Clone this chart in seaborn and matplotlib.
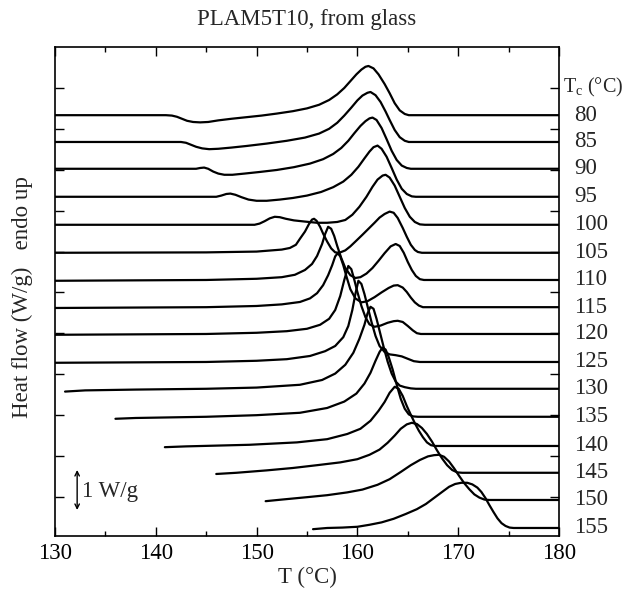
import numpy as np
import pandas as pd
import seaborn as sns
import matplotlib.pyplot as plt
from matplotlib.ticker import MultipleLocator

# crystallization temperatures (°C), one trace each, top to bottom
tc = [80, 85, 90, 95, 100, 105, 110, 115, 120, 125, 130, 135, 140, 145, 150, 155]
# vertical shift of each trace in the stack (W/g)
shift = [10.52, 9.85, 9.18, 8.48, 7.78, 7.08, 6.4, 5.72, 5.05, 4.35,
         3.68, 2.98, 2.25, 1.58, 0.9, 0.2]

# heat flow relative to each trace baseline (W/g)
T_80 = [130.0, 141.0, 141.6, 142.1, 142.6, 143.1, 143.7, 144.4, 145.2, 146.2, 147.5,
        149.0, 150.5, 152.0, 153.6, 155.0, 156.2, 157.2, 158.0, 158.7, 159.3, 159.9,
        160.4, 160.8, 161.1, 161.6, 162.1, 162.7, 163.2, 163.7, 164.2, 164.7, 165.1, 180.0]
hf_80 = [0, 0, -0.01, -0.04, -0.09, -0.14, -0.17, -0.18, -0.17, -0.13, -0.09,
         -0.05, -0.01, 0.04, 0.1, 0.17, 0.26, 0.38, 0.52, 0.68, 0.85, 1.02,
         1.14, 1.21, 1.23, 1.17, 1.02, 0.78, 0.55, 0.3, 0.12, 0.03, 0, 0]

T_85 = [130.0, 142.5, 143.0, 143.5, 144.0, 144.6, 145.3, 146.2, 147.5, 149.0, 151.0,
        153.0, 154.8, 156.2, 157.2, 158.0, 158.7, 159.4, 160.0, 160.5, 161.0, 161.3,
        161.8, 162.3, 162.8, 163.2, 163.7, 164.2, 164.7, 165.1, 180.0]
hf_85 = [0, 0, -0.02, -0.07, -0.12, -0.16, -0.18, -0.17, -0.14, -0.1, -0.04,
         0.03, 0.11, 0.21, 0.33, 0.48, 0.66, 0.86, 1.04, 1.16, 1.23, 1.25,
         1.17, 1.0, 0.76, 0.55, 0.3, 0.12, 0.03, 0, 0]

T_90 = [130.0, 144.0, 144.4, 144.8, 145.2, 145.7, 146.2, 146.8, 147.6, 148.8, 150.3,
        152.0, 153.7, 155.3, 156.6, 157.6, 158.4, 159.1, 159.7, 160.3, 160.8, 161.2,
        161.5, 161.9, 162.4, 162.9, 163.4, 163.9, 164.4, 164.9, 165.3, 180.0]
hf_90 = [0, 0, 0.02, 0.03, 0.0, -0.07, -0.12, -0.15, -0.15, -0.12, -0.08,
         -0.03, 0.04, 0.13, 0.24, 0.37, 0.52, 0.7, 0.89, 1.07, 1.19, 1.26,
         1.28, 1.22, 1.02, 0.74, 0.45, 0.22, 0.08, 0.02, 0, 0]

T_95 = [130.0, 146.0, 146.5, 147.0, 147.4, 147.9, 148.5, 149.2, 150.0, 151.0, 152.3,
        153.6, 155.0, 156.4, 157.6, 158.6, 159.4, 160.1, 160.7, 161.2, 161.6, 162.0,
        162.4, 162.9, 163.4, 163.9, 164.4, 164.9, 165.4, 165.8, 180.0]
hf_95 = [0, 0, 0.03, 0.07, 0.08, 0.05, -0.01, -0.07, -0.1, -0.1, -0.07,
         -0.03, 0.03, 0.12, 0.24, 0.38, 0.55, 0.75, 0.96, 1.13, 1.24, 1.28,
         1.2, 1.0, 0.72, 0.43, 0.2, 0.07, 0.01, 0, 0]

T_100 = [130.0, 149.8, 150.3, 150.8, 151.3, 151.8, 152.3, 152.9, 153.7, 154.8, 156.0,
         157.0, 158.0, 158.8, 159.5, 160.2, 160.9, 161.5, 162.0, 162.5, 162.8, 163.2,
         163.7, 164.2, 164.7, 165.2, 165.7, 166.2, 166.7, 180.0]
hf_100 = [0, 0, 0.03, 0.09, 0.16, 0.2, 0.19, 0.15, 0.11, 0.08, 0.05,
          0.05, 0.07, 0.12, 0.25, 0.45, 0.7, 0.95, 1.13, 1.23, 1.25, 1.18,
          0.98, 0.7, 0.42, 0.2, 0.07, 0.01, 0, 0]

T_105 = [130.0, 145.0, 150.0, 152.5, 153.3, 153.9, 154.3, 154.8, 155.2, 155.5, 155.7,
         155.95, 156.3, 156.6, 157.0, 157.4, 157.8, 158.2, 158.8, 159.3, 159.8, 160.5,
         161.1, 161.7, 162.2, 162.7, 163.2, 163.6, 164.0, 164.5, 164.9, 165.3, 165.7,
         166.0, 166.4, 180.0]
hf_105 = [0, 0.01, 0.03, 0.08, 0.12, 0.2, 0.35, 0.53, 0.72, 0.83, 0.85,
          0.8, 0.65, 0.48, 0.28, 0.11, 0.01, 0, 0.06, 0.16, 0.28, 0.45,
          0.6, 0.75, 0.88, 0.97, 1.03, 1.0, 0.87, 0.62, 0.4, 0.2, 0.07,
          0.02, 0, 0]

T_110 = [130.0, 145.0, 150.0, 152.5, 153.8, 154.8, 155.5, 156.0, 156.5, 156.8, 157.1,
         157.4, 157.7, 158.0, 158.4, 158.8, 159.3, 159.8, 160.3, 160.9, 161.5, 162.1,
         162.7, 163.3, 163.8, 164.2, 164.6, 165.0, 165.4, 165.8, 166.2, 166.6, 180.0]
hf_110 = [-0.02, 0, 0.03, 0.07, 0.13, 0.25, 0.4, 0.6, 0.9, 1.15, 1.33,
          1.28, 1.1, 0.85, 0.55, 0.3, 0.12, 0.05, 0.07, 0.16, 0.3, 0.48,
          0.67, 0.84, 0.9, 0.85, 0.68, 0.45, 0.25, 0.1, 0.02, 0, 0]

T_115 = [130.0, 145.0, 150.0, 152.5, 154.3, 155.3, 156.0, 156.6, 157.1, 157.5, 157.8,
         158.05, 158.3, 158.6, 158.9, 159.3, 159.8, 160.4, 161.0, 161.7, 162.4, 163.1,
         163.6, 164.0, 164.5, 164.9, 165.3, 165.7, 166.1, 166.5, 180.0]
hf_115 = [-0.02, 0, 0.03, 0.07, 0.13, 0.22, 0.35, 0.55, 0.8, 1.05, 1.27,
          1.35, 1.27, 1.05, 0.78, 0.45, 0.22, 0.12, 0.15, 0.25, 0.37, 0.48,
          0.54, 0.55, 0.49, 0.38, 0.24, 0.12, 0.04, 0, 0]

T_120 = [130.0, 145.0, 150.0, 153.0, 155.0, 156.3, 157.2, 157.8, 158.3, 158.7, 159.1,
         159.4, 159.7, 160.0, 160.4, 160.8, 161.2, 161.7, 162.3, 163.0, 163.6, 164.0,
         164.5, 165.0, 165.5, 165.9, 166.3, 180.0]
hf_120 = [-0.02, 0, 0.03, 0.07, 0.13, 0.23, 0.38, 0.6, 0.95, 1.35, 1.7,
          1.62, 1.35, 1.05, 0.7, 0.42, 0.24, 0.18, 0.21, 0.28, 0.32, 0.33,
          0.3, 0.2, 0.09, 0.02, 0, 0]

T_125 = [130.0, 145.0, 150.0, 153.0, 155.3, 156.8, 157.8, 158.6, 159.1, 159.5, 159.8,
         160.1, 160.4, 160.7, 161.0, 161.4, 161.8, 162.2, 162.7, 163.2, 163.8, 164.4,
         165.0, 165.6, 166.2, 180.0]
hf_125 = [-0.02, 0, 0.03, 0.07, 0.15, 0.27, 0.4, 0.62, 0.9, 1.3, 1.7,
          2.03, 1.95, 1.7, 1.4, 1.0, 0.65, 0.4, 0.25, 0.19, 0.17, 0.14,
          0.08, 0.02, 0, 0]

T_130 = [131.0, 133.0, 138.0, 145.0, 150.0, 154.3, 156.5, 157.8, 158.8, 159.6, 160.2,
         160.7, 161.0, 161.3, 161.6, 161.9, 162.2, 162.6, 163.0, 163.4, 163.8, 164.2,
         164.7, 165.3, 165.8, 180.0]
hf_130 = [-0.07, -0.04, -0.02, 0, 0.03, 0.1, 0.22, 0.38, 0.6, 0.9, 1.25,
          1.6, 1.88, 2.05, 2.0, 1.75, 1.45, 1.05, 0.68, 0.38, 0.18, 0.08,
          0.04, 0.01, 0, 0]

T_135 = [136.0, 138.0, 145.0, 150.0, 154.3, 157.0, 158.7, 159.9, 160.7, 161.3, 161.8,
         162.2, 162.5, 162.8, 163.1, 163.5, 163.9, 164.3, 164.7, 165.1, 165.5, 166.0,
         180.0]
hf_135 = [-0.05, -0.03, 0, 0.04, 0.1, 0.22, 0.38, 0.58, 0.83, 1.1, 1.4,
          1.62, 1.73, 1.68, 1.5, 1.18, 0.8, 0.45, 0.2, 0.06, 0.01, 0,
          0]

T_140 = [140.9, 143.0, 149.3, 154.0, 157.0, 159.0, 160.3, 161.3, 162.1, 162.7, 163.2,
         163.7, 164.1, 164.5, 164.9, 165.3, 165.7, 166.1, 166.5, 166.9, 167.3, 167.7,
         180.0]
hf_140 = [-0.03, -0.01, 0.03, 0.09, 0.17, 0.3, 0.43, 0.63, 0.88, 1.1, 1.33,
          1.48, 1.43, 1.25, 1.0, 0.78, 0.57, 0.38, 0.22, 0.09, 0.02, 0,
          0]

T_145 = [146.0, 148.0, 151.0, 153.6, 156.0, 158.3, 160.0, 161.2, 162.2, 163.0, 163.7,
         164.3, 164.9, 165.4, 165.9, 166.4, 166.9, 167.4, 167.9, 168.4, 168.9, 169.4,
         169.9, 170.4, 180.0]
hf_145 = [-0.03, 0.0, 0.06, 0.12, 0.19, 0.26, 0.34, 0.45, 0.58, 0.75, 0.93,
          1.1, 1.21, 1.25, 1.22, 1.12, 0.97, 0.78, 0.56, 0.36, 0.19, 0.07,
          0.01, 0, 0]

T_150 = [150.9, 152.5, 155.0, 157.0, 159.0, 160.5, 162.0, 163.2, 164.3, 165.3, 166.2,
         167.0, 167.6, 168.1, 168.6, 169.1, 169.6, 170.1, 170.6, 171.1, 171.6, 172.1,
         172.6, 173.1, 180.0]
hf_150 = [-0.03, 0.01, 0.07, 0.12, 0.19, 0.26, 0.38, 0.52, 0.7, 0.87, 1.0,
          1.09, 1.12, 1.13, 1.08, 0.96, 0.79, 0.6, 0.42, 0.27, 0.14, 0.06,
          0.01, 0, 0]

T_155 = [155.6, 157.0, 158.5, 160.0, 161.2, 162.4, 163.6, 164.8, 165.9, 166.8, 167.6,
         168.4, 169.1, 169.7, 170.3, 170.9, 171.4, 171.9, 172.3, 172.7, 173.1, 173.5,
         173.9, 174.3, 174.7, 175.1, 175.5, 180.0]
hf_155 = [-0.03, 0.0, 0.01, 0.03, 0.08, 0.14, 0.23, 0.35, 0.47, 0.6, 0.75,
          0.9, 1.03, 1.1, 1.13, 1.13, 1.09, 1.01, 0.9, 0.75, 0.57, 0.4,
          0.24, 0.12, 0.05, 0.01, 0, 0]

temps = [T_80, T_85, T_90, T_95, T_100, T_105, T_110, T_115, T_120, T_125,
         T_130, T_135, T_140, T_145, T_150, T_155]
flows = [hf_80, hf_85, hf_90, hf_95, hf_100, hf_105, hf_110, hf_115, hf_120, hf_125,
         hf_130, hf_135, hf_140, hf_145, hf_150, hf_155]

frames = []
for t, s, T, hf in zip(tc, shift, temps, flows):
    frames.append(pd.DataFrame({'Tc': t, 'T': T, 'hf': np.array(hf) + s}))
df = pd.concat(frames, ignore_index=True)

sns.set_style('ticks')
plt.rcParams['font.family'] = ['Liberation Serif', 'DejaVu Serif']
plt.rcParams['mathtext.fontset'] = 'custom'
plt.rcParams['mathtext.rm'] = 'Liberation Serif'
plt.rcParams['mathtext.it'] = 'Liberation Serif:italic'

fig = plt.figure(figsize=(6.29, 6.0), dpi=100)
ax = fig.add_axes([0.0874, 0.1067, 0.8013, 0.815])

sns.lineplot(data=df, x='T', y='hf', units='Tc', estimator=None, color='black',
             lw=1.6, sort=False, ax=ax, legend=False)

ax.set_xlim(130, 180)
ax.set_ylim(0, 12.225)
ax.xaxis.set_major_locator(MultipleLocator(10))
ax.xaxis.set_minor_locator(MultipleLocator(5))
# unlabelled y ticks, a bit over 1 W/g apart as in the original
ax.set_yticks([0.98 + 1.022 * k for k in range(11)])
ax.set_yticklabels([])
ax.tick_params(which='both', direction='in', top=True, right=True, width=1.0,
               labelsize=16.5, colors='black')
ax.tick_params(which='major', length=6.5)
ax.tick_params(which='minor', length=3.6)
ax.tick_params(axis='x', pad=5)
for sp in ax.spines.values():
    sp.set_linewidth(1.2)
    sp.set_color('black')

ax.set_xlabel('T (°C)', fontsize=16.5, labelpad=2)
ax.set_ylabel('')
fig.text(0.035, 0.505, 'Heat flow (W/g)   endo up', rotation=90, fontsize=16.5,
         ha='center', va='center')
fig.text(0.488, 0.967, 'PLAM5T10, from glass', fontsize=16.5, ha='center', va='center')

# Tc labels on the right, aligned with each baseline
for t, s in zip(tc, shift):
    ax.text(181.5, s, str(t), fontsize=16.5, ha='left', va='center', clip_on=False)
ax.text(180.35, 11.2, r'T$_\mathrm{c}$ (°C)', fontsize=14.5, ha='left', va='center',
        clip_on=False)

# 1 W/g scale bar
ax.annotate('', xy=(132.2, 0.65), xytext=(132.2, 1.65),
            arrowprops=dict(arrowstyle='<->', lw=1.0, color='black', mutation_scale=8,
                            shrinkA=0, shrinkB=0))
ax.text(132.7, 1.12, '1 W/g', fontsize=16.5, ha='left', va='center')

fig.savefig('out.png', dpi=100)
